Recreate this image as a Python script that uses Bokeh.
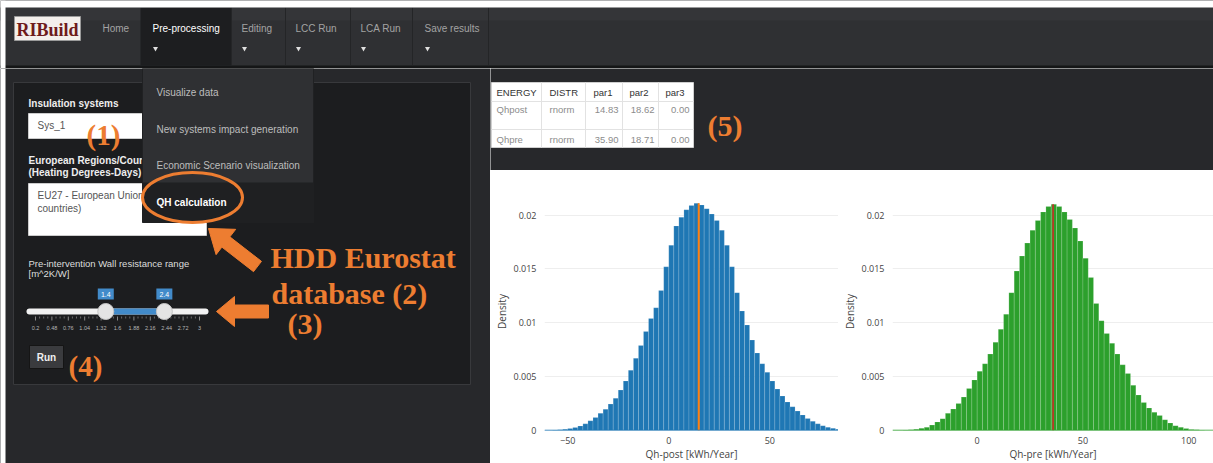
import numpy as np
from bokeh.plotting import figure
from bokeh.layouts import row, column
from bokeh.models import Range1d, FixedTicker, Span, CustomJSTickFormatter
from bokeh.core.properties import value
from bokeh.embed import file_html
from bokeh.resources import INLINE

# ---------------- data ----------------
nav_items = ["Home", "Pre-processing", "Editing", "LCC Run", "LCA Run", "Save results"]
active_item = "Pre-processing"
menu_items = ["Visualize data", "New systems impact generation",
              "Economic Scenario visualization", "QH calculation"]
selected_menu = "QH calculation"

insulation_system = "Sys_1"
region_lines = ["EU27 - European Union (27", "countries)"]
slider_min, slider_max = 0.2, 3.0
slider_values = [1.4, 2.4]
slider_tick_labels = ["0.2", "0.48", "0.76", "1.04", "1.32", "1.6", "1.88", "2.16", "2.44", "2.72", "3"]

table_columns = ["ENERGY", "DISTR", "par1", "par2", "par3"]
energy = ["Qhpost", "Qhpre"]
distr = ["rnorm", "rnorm"]
par1 = [14.83, 35.90]
par2 = [18.62, 18.71]
par3 = [0.00, 0.00]

bin_width = 2.5
post_bin_start = -65.0
qh_post_density = [
    0.00001, 0.00002, 0.00003, 0.00005, 0.00008, 0.00012, 0.00018, 0.00028, 0.00042, 0.00062,
    0.00090, 0.00120, 0.00160, 0.00198, 0.00245, 0.00300, 0.00375, 0.00460, 0.00560, 0.00670,
    0.00790, 0.00920, 0.01040, 0.01140, 0.01300, 0.01520, 0.01720, 0.01900, 0.01980, 0.02050,
    0.02090, 0.02110, 0.02095, 0.02060, 0.02010, 0.01950, 0.01860, 0.01720, 0.01520, 0.01280,
    0.01110, 0.00980, 0.00840, 0.00720, 0.00620, 0.00540, 0.00460, 0.00385, 0.00320, 0.00265,
    0.00220, 0.00180, 0.00145, 0.00112, 0.00085, 0.00062, 0.00044, 0.00030, 0.00020, 0.00012,
    0.00007, 0.00004, 0.00002]
pre_bin_start = -42.5
qh_pre_density = [
    0.00001, 0.00002, 0.00003, 0.00005, 0.00008, 0.00012, 0.00020, 0.00030, 0.00050, 0.00080,
    0.00110, 0.00160, 0.00200, 0.00250, 0.00310, 0.00390, 0.00470, 0.00550, 0.00620, 0.00710,
    0.00820, 0.00940, 0.01080, 0.01280, 0.01480, 0.01620, 0.01740, 0.01860, 0.01950, 0.02030,
    0.02080, 0.02100, 0.02080, 0.02030, 0.01960, 0.01880, 0.01760, 0.01600, 0.01420, 0.01180,
    0.01020, 0.00900, 0.00810, 0.00710, 0.00610, 0.00530, 0.00420, 0.00330, 0.00260, 0.00210,
    0.00170, 0.00140, 0.00100, 0.00070, 0.00045, 0.00030, 0.00018, 0.00010, 0.00006, 0.00003]
density_ticks = [0, 0.005, 0.01, 0.015, 0.02]
post_x_ticks = [-50, 0, 50]
pre_x_ticks = [0, 50, 100]

# ---------------- style ----------------
ORANGE = "#ED7D31"
NAV_BG = "#2f3033"
BODY_BG = "#27282b"
WELL_BG = "#1c1d1f"
SANS = "Liberation Sans"
SERIF = "Liberation Serif"


def ui_fig(w, h, x0, x1, y0, y1, bg):
    p = figure(width=w, height=h, x_range=Range1d(x0, x1), y_range=Range1d(y1, y0),
               output_backend="svg", toolbar_location=None, x_axis_type=None,
               y_axis_type=None, min_border=0, background_fill_color=bg,
               border_fill_color=bg, outline_line_color=None)
    p.grid.visible = False
    return p


def txt(p, x, y, s, size="10px", color="#cccccc", font=SANS, style="normal",
        align="left", baseline="middle"):
    p.text(x=[x], y=[y], text=[s], text_font=value(font), text_font_size=size,
           text_color=color, text_font_style=style, text_align=align,
           text_baseline=baseline)


def block_arrow(p, tail, tip, shaft, head_w, head_len, color):
    t = np.array(tail, float)
    h = np.array(tip, float)
    u = (h - t) / np.linalg.norm(h - t)
    n = np.array([-u[1], u[0]])
    b = h - u * head_len
    pts = [t + n * shaft / 2, b + n * shaft / 2, b + n * head_w / 2, h,
           b - n * head_w / 2, b - n * shaft / 2, t - n * shaft / 2]
    p.patch(x=[q[0] for q in pts], y=[q[1] for q in pts], fill_color=color,
            line_color=color, line_width=1)


# ---------------- navbar ----------------
nav = ui_fig(1213, 68, 0, 1213, 0, 68, NAV_BG)
nav.quad(left=[0], right=[1213], top=[7], bottom=[20], fill_color="#343538", line_color=None)
nav.quad(left=[0], right=[1213], top=[65], bottom=[68], fill_color="#151617", line_color=None)
nav.quad(left=[140], right=[231], top=[7], bottom=[65], fill_color="#1d1e20", line_color=None)
for sx in [231, 285, 350, 412, 488]:
    nav.segment(x0=[sx], y0=[7], x1=[sx], y1=[65], line_color="#242527", line_width=1)
nav.quad(left=[0], right=[1213], top=[0], bottom=[7], fill_color="white", line_color=None)
nav.quad(left=[0], right=[5], top=[0], bottom=[68], fill_color="white", line_color=None)
# logo
nav.quad(left=[14], right=[80], top=[16], bottom=[40], fill_color="#f3efec", line_color="#9a9a9a")
txt(nav, 47, 29, "RIBuild", size="18px", color="#6e1b1b", font=SERIF, style="bold", align="center")
nav_x = [102, 152, 241, 295, 360, 424]
for name, x in zip(nav_items, nav_x):
    col = "#ffffff" if name == active_item else "#a3a3a3"
    txt(nav, x, 28, name, size="10px", color=col)
    if name != "Home":
        nav.scatter(x=[x + 3], y=[48], marker="inverted_triangle", size=5,
                    fill_color="#e0e0e0", line_color=None)

# ---------------- left panel ----------------
lp = ui_fig(490, 395, 0, 490, 68, 463, BODY_BG)
lp.quad(left=[0], right=[5], top=[68], bottom=[463], fill_color="white", line_color=None)
lp.quad(left=[13], right=[470], top=[82], bottom=[384], fill_color=WELL_BG, line_color="#38393c")

txt(lp, 28, 103, "Insulation systems", size="10px", color="#eeeeee", style="bold")
lp.quad(left=[28], right=[206], top=[113], bottom=[138], fill_color="white", line_color="#cccccc")
txt(lp, 37, 125, insulation_system, size="10px", color="#555555")
txt(lp, 86, 134, "(1)", size="29px", color=ORANGE, font=SERIF, style="bold", baseline="alphabetic")

txt(lp, 28, 160, "European Regions/Coun", size="10px", color="#eeeeee", style="bold")
txt(lp, 28, 172, "(Heating Degrees-Days)", size="10px", color="#eeeeee", style="bold")
lp.quad(left=[28], right=[206], top=[183], bottom=[235], fill_color="white", line_color="#cccccc")
for i, line in enumerate(region_lines):
    txt(lp, 37, 195 + 13 * i, line, size="10px", color="#555555")

txt(lp, 28, 263, "Pre-intervention Wall resistance range", size="9.5px", color="#dddddd")
txt(lp, 28, 273, "[m^2K/W]", size="9.5px", color="#dddddd")

# slider
sx0, sx1 = 35, 199


def sl(v):
    return sx0 + (v - slider_min) / (slider_max - slider_min) * (sx1 - sx0)


lp.line(x=[29, 205], y=[311, 311], line_color="#f2f2f2", line_width=6, line_cap="round")
lp.line(x=[sl(slider_values[0]), sl(slider_values[1])], y=[311, 311], line_color="#428bca", line_width=6)
n_t = len(slider_tick_labels)
for i, lab in enumerate(slider_tick_labels):
    xt = sx0 + i * (sx1 - sx0) / (n_t - 1)
    lp.segment(x0=[xt], y0=[316], x1=[xt], y1=[320], line_color="#8a8a8a", line_width=1)
    txt(lp, xt, 327, lab, size="5.5px", color="#b5b5b5", align="center")
    if i < n_t - 1:
        for k in range(1, 4):
            xm = xt + k * (sx1 - sx0) / (n_t - 1) / 4
            lp.segment(x0=[xm], y0=[316], x1=[xm], y1=[318], line_color="#6a6a6a", line_width=1)
for v in slider_values:
    xv = sl(v)
    lp.quad(left=[xv - 8], right=[xv + 8], top=[288], bottom=[299], fill_color="#428bca", line_color=None)
    txt(lp, xv, 293.5, str(v), size="7px", color="white", align="center")
    lp.scatter(x=[xv], y=[311], marker="circle", size=16, fill_color="#e4e4e4", line_color="#c4c4c4")

# run button
lp.quad(left=[29], right=[63], top=[345], bottom=[368], fill_color="#3a3b3e", line_color="#151515")
txt(lp, 46, 356.5, "Run", size="10px", color="#f0f0f0", style="bold", align="center")
txt(lp, 68, 365, "(4)", size="29px", color=ORANGE, font=SERIF, style="bold", baseline="alphabetic")

# annotations
block_arrow(lp, (257, 266), (208, 228), 13, 32, 22, ORANGE)
block_arrow(lp, (268, 311), (216, 311), 13, 30, 18, ORANGE)
txt(lp, 270, 257, "HDD Eurostat", size="30px", color=ORANGE, font=SERIF, style="bold", baseline="alphabetic")
txt(lp, 271, 293, "database (2)", size="30px", color=ORANGE, font=SERIF, style="bold", baseline="alphabetic")
txt(lp, 287, 323, "(3)", size="30px", color=ORANGE, font=SERIF, style="bold", baseline="alphabetic")

# dropdown menu (on top)
lp.quad(left=[142], right=[313], top=[68], bottom=[222], fill_color="#2f3033", line_color="#202123")
lp.quad(left=[142], right=[313], top=[182], bottom=[222], fill_color="#1f2022", line_color=None)
for i, item in enumerate(menu_items):
    sel = item == selected_menu
    txt(lp, 156, 92 + 36.7 * i, item, size="10px",
        color="#ffffff" if sel else "#bdbdbd", style="bold" if sel else "normal")
lp.ellipse(x=[192], y=[197], width=[100], height=[50], fill_color=None,
           line_color=ORANGE, line_width=3)

# ---------------- table area ----------------
rt = ui_fig(723, 102, 490, 1213, 68, 170, BODY_BG)
col_edges = [491, 541, 585, 622, 658, 693]
row_edges = [82, 101, 129, 147]
rt.quad(left=[col_edges[0]], right=[col_edges[-1]], top=[row_edges[0]], bottom=[row_edges[-1]],
        fill_color="white", line_color="#cfcfcf")
for cx in col_edges[1:-1]:
    rt.segment(x0=[cx], y0=[row_edges[0]], x1=[cx], y1=[row_edges[-1]], line_color="#e2e2e2")
for ry in row_edges[1:-1]:
    rt.segment(x0=[col_edges[0]], y0=[ry], x1=[col_edges[-1]], y1=[ry], line_color="#e2e2e2")
head_x = [496, 549, 593, 629, 665]
for name, hx in zip(table_columns, head_x):
    txt(rt, hx, 92, name, size="9.5px", color="#333333")
row_y = [109, 139]
for r in range(len(energy)):
    txt(rt, 496, row_y[r], energy[r], size="9.5px", color="#8c8c8c")
    txt(rt, 549, row_y[r], distr[r], size="9.5px", color="#8c8c8c")
    for val, cx in zip([par1[r], par2[r], par3[r]], col_edges[3:]):
        txt(rt, cx - 4, row_y[r], f"{val:.2f}", size="9.5px", color="#8c8c8c", align="right")
txt(rt, 707, 125, "(5)", size="30px", color=ORANGE, font=SERIF, style="bold", baseline="alphabetic")

# ---------------- histograms ----------------
fmt = CustomJSTickFormatter(code="return tick < 0 ? '\u2212' + Math.abs(tick) : tick.toString();")


def hist_fig(width, xr, start, dens, fill, vline_x, vline_col, vline_w, xticks, title):
    p = figure(width=width, height=293, x_range=Range1d(*xr), y_range=Range1d(0, 0.0221),
               output_backend="svg", toolbar_location=None, min_border_left=54,
               min_border_right=0, min_border_top=22, min_border_bottom=28,
               background_fill_color="white", border_fill_color="white",
               outline_line_color=None)
    left = [start + bin_width * i for i in range(len(dens))]
    right = [l + bin_width for l in left]
    p.quad(left=left, right=right, bottom=0, top=dens, fill_color=fill,
           line_color="white", line_alpha=0.25, line_width=0.6)
    p.add_layout(Span(location=0, dimension="width", line_color=fill, line_width=1.5))
    p.segment(x0=[vline_x], y0=[0], x1=[vline_x], y1=[max(dens)], line_color=vline_col,
              line_width=vline_w)
    yt = FixedTicker(ticks=density_ticks)
    p.yaxis.ticker = yt
    p.ygrid.ticker = yt
    p.xaxis.ticker = FixedTicker(ticks=xticks)
    p.xgrid.visible = False
    p.ygrid.grid_line_color = "#eeeeee"
    for ax in [p.xaxis, p.yaxis]:
        ax.formatter = fmt
        ax.axis_line_color = None
        ax.major_tick_line_color = None
        ax.minor_tick_line_color = None
        ax.major_label_text_font = "Open Sans"
        ax.major_label_text_font_size = "9px"
        ax.major_label_text_color = "#444444"
        ax.major_label_standoff = 2
        ax.axis_label_text_font = "Open Sans"
        ax.axis_label_text_font_style = "normal"
        ax.axis_label_text_font_size = "10px"
        ax.axis_label_text_color = "#444444"
        ax.axis_label_standoff = 2
    p.xaxis.major_label_standoff = 0
    p.xaxis.axis_label_standoff = 0
    p.xaxis.axis_label = title
    p.yaxis.axis_label = "Density"
    return p


# frame of chart 1: 544..838 px; scale 2.02 px per kWh, 0 at 668.3 px
p1 = hist_fig(348, (-61.5, 84.0), post_bin_start, qh_post_density, "#1f77b4",
              par1[0], "#ff7f0e", 2, post_x_ticks, "Qh-post [kWh/Year]")
# frame of chart 2: 892..1213 px; scale 2.116 px per kWh, 0 at 976.7 px
p2 = hist_fig(375, (-40.0, 111.7), pre_bin_start, qh_pre_density, "#2ca02c",
              par1[1], "#d62728", 1.5, pre_x_ticks, "Qh-pre [kWh/Year]")

layout = column(nav, row(lp, column(rt, row(p1, p2))))
open("out.html", "w").write(file_html(layout, INLINE))
